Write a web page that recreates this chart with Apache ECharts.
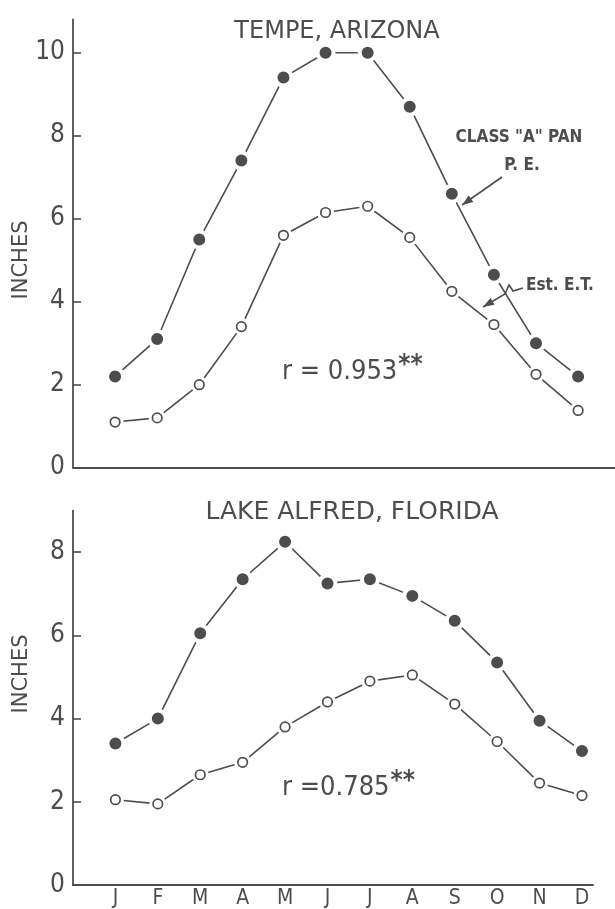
<!DOCTYPE html>
<html>
<head>
<meta charset="utf-8">
<script src="https://cdn.jsdelivr.net/npm/echarts@6/dist/echarts.min.js"></script>
<style>html,body{margin:0;padding:0;background:#fff;}#c{width:615px;height:909px;}</style>
</head>
<body>
<div id="c"></div>
<script>
var months = ['J','F','M','A','M','J','J','A','S','O','N','D'];
var monthIdx = [1,2,3,4,5,6,7,8,9,10,11,12];
var yTicksTop = [0,2,4,6,8,10];
var yTicksBottom = [0,2,4,6,8];
// Tempe, Arizona
var tempePan = [2.2, 3.1, 5.5, 7.4, 9.4, 10.0, 10.0, 8.7, 6.6, 4.65, 3.0, 2.2];
var tempeET  = [1.1, 1.2, 2.0, 3.4, 5.6, 6.15, 6.3, 5.55, 4.25, 3.45, 2.25, 1.38];
// Lake Alfred, Florida
var lakePan = [3.4, 4.0, 6.05, 7.35, 8.25, 7.25, 7.35, 6.95, 6.35, 5.35, 3.95, 3.22];
var lakeET  = [2.05, 1.95, 2.65, 2.95, 3.8, 4.4, 4.9, 5.05, 4.35, 3.45, 2.45, 2.15];

var INK = '#4d4d4d';
var FONT = "'Liberation Sans Narrow','DejaVu Sans Condensed',sans-serif";
var WIDE = "'DejaVu Sans',sans-serif";
var COND = "'DejaVu Sans Condensed','DejaVu Sans',sans-serif";

function pairs(vals){ return vals.map(function(v,i){ return [monthIdx[i], v]; }); }

function filledSeries(vals, gi){
  return {type:'line', xAxisIndex:gi, yAxisIndex:gi, data:pairs(vals), symbol:'circle', symbolSize:16,
    showSymbol:true, silent:true, z:3,
    lineStyle:{color:INK, width:1.6},
    itemStyle:{color:INK, borderColor:'#fff', borderWidth:4}};
}
function openSeries(vals, gi){
  return [
    {type:'line', xAxisIndex:gi, yAxisIndex:gi, data:pairs(vals), showSymbol:false, silent:true, z:2,
      lineStyle:{color:INK, width:1.6}},
    {type:'scatter', xAxisIndex:gi, yAxisIndex:gi, data:pairs(vals), symbol:'circle', symbolSize:17, silent:true, z:4,
      itemStyle:{color:'#fff', opacity:1}},
    {type:'scatter', xAxisIndex:gi, yAxisIndex:gi, data:pairs(vals), symbol:'circle', symbolSize:9.5, silent:true, z:5,
      itemStyle:{color:'#fff', borderColor:INK, borderWidth:1.7, opacity:1}}
  ];
}

function xAxisDef(gi, max, showLabels){
  return {type:'value', gridIndex:gi, min:0, max:max,
    axisLine:{show:true, lineStyle:{color:INK, width:1.8}},
    axisTick:{show:false}, splitLine:{show:false},
    axisLabel:{show:showLabels, customValues:monthIdx, margin:3, color:INK, fontFamily:FONT, fontSize:21,
      formatter:function(v){ return months[Math.round(v)-1] || ''; }}};
}
function yAxisDef(gi, max, ticks){
  return {type:'value', gridIndex:gi, min:0, max:max,
    axisLine:{show:true, lineStyle:{color:INK, width:1.8}},
    axisTick:{show:true, inside:true, length:8, customValues:ticks, lineStyle:{color:INK, width:1.6}},
    splitLine:{show:false},
    axisLabel:{customValues:ticks, margin:8, color:INK, fontFamily:FONT, fontSize:26}};
}

function arrowHead(tip, from, len, half){
  var dx = tip[0]-from[0], dy = tip[1]-from[1];
  var d = Math.sqrt(dx*dx+dy*dy); dx/=d; dy/=d;
  var bx = tip[0]-dx*len, by = tip[1]-dy*len;
  return [[tip[0],tip[1]],[bx-dy*half, by+dx*half],[bx+dy*half, by-dx*half]];
}

var chart = echarts.init(document.getElementById('c'), null, {renderer:'canvas'});
var series = [];
series.push(filledSeries(tempePan, 0));
series = series.concat(openSeries(tempeET, 0));
series.push(filledSeries(lakePan, 1));
series = series.concat(openSeries(lakeET, 1));

var peLine = [[502,177],[462,205]];
var etLine = [[523,288],[513,291],[509,285],[505,294],[483,307]];

var rRich = {a:{fill:INK, fontFamily:FONT, fontSize:27}, s:{fill:INK, fontFamily:COND, fontSize:26, fontWeight:'bold', padding:[0,0,12,1]}};

chart.setOption({
  backgroundColor:'#fff',
  animation:false,
  grid:[
    {left:73, top:19.5, width:543, height:448.2, outerBoundsMode:'none', containLabel:false},
    {left:73, top:510.6, width:520, height:374.4, outerBoundsMode:'none', containLabel:false}
  ],
  xAxis:[xAxisDef(0, 12.9, false), xAxisDef(1, 12.26, true)],
  yAxis:[yAxisDef(0, 10.8, yTicksTop), yAxisDef(1, 9.0, yTicksBottom)],
  series:series,
  graphic:[
    {type:'text', x:337, y:32, style:{text:'TEMPE, ARIZONA', fill:INK, font:'24px '+WIDE, textAlign:'center', textVerticalAlign:'middle'}},
    {type:'text', x:352, y:512, style:{text:'LAKE ALFRED, FLORIDA', fill:INK, font:'25px '+WIDE, textAlign:'center', textVerticalAlign:'middle'}},
    {type:'text', x:22, y:260, rotation:Math.PI/2, style:{text:'INCHES', fill:INK, font:'21px '+WIDE, textAlign:'center', textVerticalAlign:'middle'}},
    {type:'text', x:22, y:674, rotation:Math.PI/2, style:{text:'INCHES', fill:INK, font:'21px '+WIDE, textAlign:'center', textVerticalAlign:'middle'}},
    {type:'text', x:519, y:138, style:{text:'CLASS "A" PAN', fill:INK, font:'bold 17px '+COND, textAlign:'center', textVerticalAlign:'middle'}},
    {type:'text', x:522, y:166, style:{text:'P. E.', fill:INK, font:'bold 17px '+COND, textAlign:'center', textVerticalAlign:'middle'}},
    {type:'text', x:526, y:286, style:{text:'Est. E.T.', fill:INK, font:'bold 17px '+COND, textAlign:'left', textVerticalAlign:'middle'}},
    {type:'polyline', shape:{points:peLine}, style:{stroke:INK, lineWidth:1.6, fill:null}},
    {type:'polygon', shape:{points:arrowHead(peLine[1], peLine[0], 11, 4)}, style:{fill:INK}},
    {type:'polyline', shape:{points:etLine}, style:{stroke:INK, lineWidth:1.6, fill:null}},
    {type:'polygon', shape:{points:arrowHead(etLine[4], etLine[3], 11, 4)}, style:{fill:INK}},
    {type:'text', x:282, y:372, style:{text:'{a|r = 0.953}{s|**}', textVerticalAlign:'middle', rich:rRich}},
    {type:'text', x:282, y:788, style:{text:'{a|r =0.785}{s|**}', textVerticalAlign:'middle', rich:rRich}}
  ]
});
</script>
</body>
</html>
